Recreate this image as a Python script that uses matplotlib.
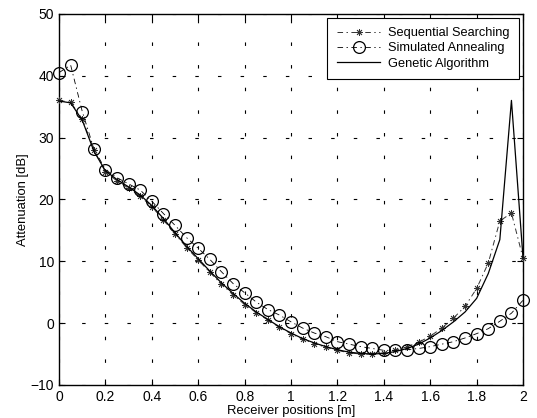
import numpy as np
import matplotlib
matplotlib.use("Agg")
import matplotlib.pyplot as plt

plt.rcParams['font.family'] = ['Liberation Sans', 'DejaVu Sans']
plt.rcParams['lines.scale_dashes'] = False

x_pos = [0.00, 0.05, 0.10, 0.15, 0.20, 0.25, 0.30, 0.35, 0.40, 0.45,
         0.50, 0.55, 0.60, 0.65, 0.70, 0.75, 0.80, 0.85, 0.90, 0.95,
         1.00, 1.05, 1.10, 1.15, 1.20, 1.25, 1.30, 1.35, 1.40, 1.45,
         1.50, 1.55, 1.60, 1.65, 1.70, 1.75, 1.80, 1.85, 1.90, 1.95, 2.00]

genetic = [35.9, 35.6, 32.8, 27.8, 24.6, 23.2, 22.0, 20.7, 19.0, 16.9,
           14.6, 12.4, 10.4, 8.4, 6.5, 4.8, 3.2, 1.8, 0.6, -0.6,
           -1.6, -2.5, -3.2, -3.8, -4.3, -4.7, -4.9, -5.0, -4.9, -4.6,
           -4.1, -3.4, -2.4, -1.2, 0.2, 1.8, 4.0, 8.0, 13.5, 36.0, 10.5]

sequential = [36.0, 35.7, 33.0, 28.0, 24.4, 23.0, 21.8, 20.5, 18.8, 16.7,
              14.4, 12.2, 10.2, 8.2, 6.3, 4.6, 3.0, 1.7, 0.5, -0.7,
              -1.7, -2.6, -3.3, -3.9, -4.4, -4.8, -5.0, -5.0, -4.8, -4.4,
              -3.8, -3.1, -2.1, -0.8, 0.8, 2.7, 5.6, 9.7, 16.5, 17.8, 10.5]

annealing = [40.5, 41.7, 34.2, 28.2, 24.8, 23.5, 22.5, 21.5, 19.7, 17.7,
             15.8, 13.8, 12.1, 10.3, 8.3, 6.4, 4.9, 3.4, 2.2, 1.3,
             0.2, -0.8, -1.6, -2.2, -3.0, -3.4, -3.8, -4.1, -4.4, -4.4,
             -4.3, -4.1, -3.8, -3.4, -3.0, -2.4, -1.7, -0.9, 0.3, 1.6, 3.7]

x_ticks = [0, 0.2, 0.4, 0.6, 0.8, 1, 1.2, 1.4, 1.6, 1.8, 2]
x_labels = ['0', '0.2', '0.4', '0.6', '0.8', '1', '1.2', '1.4', '1.6', '1.8', '2']
y_ticks = [-10, 0, 10, 20, 30, 40, 50]

fig = plt.figure(figsize=(5.37, 4.18), dpi=100)
ax = fig.add_axes([0.110, 0.079, 0.864, 0.888])

ax.plot(x_pos, sequential, linestyle=(0, (4, 2.5, 1, 2.5)), color='#333333',
        linewidth=0.7, marker=(8, 2, 0), markersize=5, markeredgewidth=0.6,
        label='Sequential Searching', clip_on=False, zorder=3)
ax.plot(x_pos, annealing, linestyle=(0, (4, 2.5, 1, 2.5)), color='black',
        linewidth=0.6, marker='o', markersize=8.5, markerfacecolor='none',
        markeredgewidth=0.9, label='Simulated Annealing', clip_on=False, zorder=3)
ax.plot(x_pos, genetic, linestyle='-', color='black', linewidth=0.9,
        label='Genetic Algorithm', clip_on=False, zorder=3)

ax.set_xlim(0, 2)
ax.set_ylim(-10, 50)
ax.set_xticks(x_ticks)
ax.set_xticklabels(x_labels)
ax.set_yticks(y_ticks)
ax.tick_params(direction='in', top=True, right=True, labelsize=10, length=4,
               width=0.8, pad=3.5)
ax.grid(True, color='black', linestyle=(0, (2.5, 13.8)), linewidth=0.8)
for s in ax.spines.values():
    s.set_linewidth(1.0)

ax.set_xlabel('Receiver positions [m]', fontsize=9.4, labelpad=0.5)
ax.set_ylabel('Attenuation [dB]', fontsize=9.4, labelpad=1)

leg = ax.legend(loc='upper right', fontsize=9.2, frameon=True, fancybox=False,
                edgecolor='black', framealpha=1, borderaxespad=0.3,
                handlelength=3.4, handletextpad=0.6, borderpad=0.75,
                labelspacing=0.25)
leg.get_frame().set_linewidth(0.8)

fig.savefig('out.png', dpi=100)
